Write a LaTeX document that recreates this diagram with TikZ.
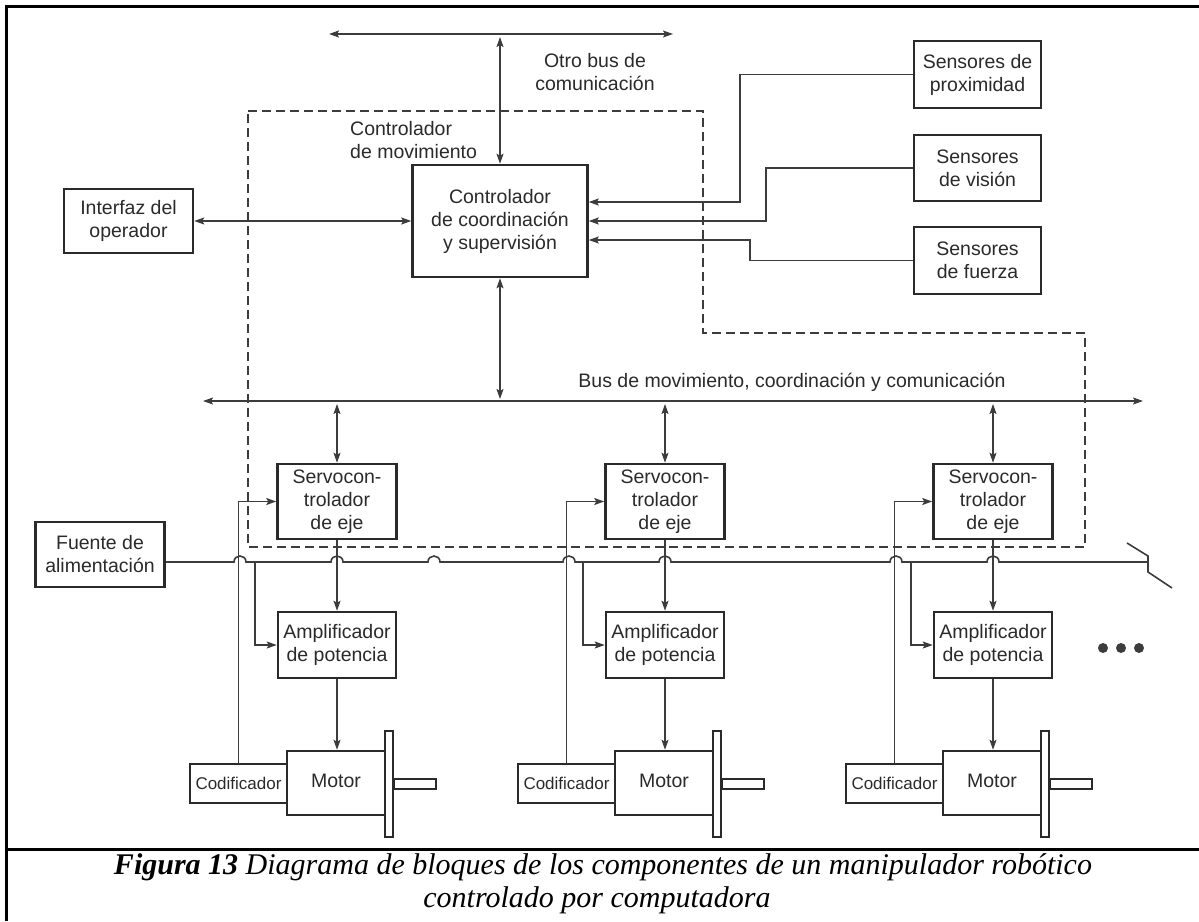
\documentclass[tikz,border=0pt]{standalone}
\usepackage{fontspec}
\setmainfont{Liberation Serif}
\newfontfamily\dsans{Liberation Sans}
\usetikzlibrary{arrows.meta}
\newcommand\fsbox{\dsans\fontsize{19.5}{23}\selectfont}
\newcommand\fscod{\dsans\fontsize{17}{20}\selectfont}
\definecolor{ink}{HTML}{2A2A2A}
\definecolor{wire}{HTML}{3C3C3C}
\begin{document}
\begin{tikzpicture}[x=1pt,y=-1pt,
  tip/.tip={Stealth[length=10pt,width=7pt,inset=2pt]},
  wirestyle/.style={draw=wire,line width=1.6pt},
  arr/.style={wirestyle,-tip},
  darr/.style={wirestyle,tip-tip},
  blk/.style={draw=ink,line width=2.5pt,inner sep=0pt,align=center,font=\fsbox,text=ink},
  lbl/.style={inner sep=0pt,align=center,font=\fsbox,text=ink},
  dashbox/.style={draw=wire,line width=1.7pt,dash pattern=on 9pt off 5pt},
  frame/.style={draw=black,line width=3pt}]
\useasboundingbox (0,0) rectangle (1199,921);

% frame
\draw[frame] (1199,6) -- (6,6) -- (6,921);
\draw[frame] (6,849) -- (1199,849);

% dashed motion controller region
\draw[dashbox] (248,111) -- (703,111) -- (703,333) -- (1085,333) -- (1085,547) -- (248,547) -- cycle;

% top nodes
\node[lbl] (otro) at (595,72) {Otro bus de\\comunicación};
\node[lbl,anchor=west,align=left] (mov) at (350,140) {Controlador\\de movimiento};
\node[blk,minimum width=175pt,minimum height=112pt] (ctrl) at (500,221) {Controlador\\de coordinación\\y supervisión};
\node[blk,minimum width=129pt,minimum height=64pt] (iface) at (128.5,221) {Interfaz del\\operador};
\node[blk,minimum width=127pt,minimum height=67pt] (s1) at (977.5,74.5) {Sensores de\\proximidad};
\node[blk,minimum width=127pt,minimum height=66pt] (s2) at (977.5,168) {Sensores\\de visión};
\node[blk,minimum width=127pt,minimum height=67pt] (s3) at (977.5,260.5) {Sensores\\de fuerza};
\node[blk,minimum width=129pt,minimum height=65pt] (fuente) at (100,554.5) {Fuente de\\alimentación};
\node[lbl] (buslbl) at (792,382) {Bus de movimiento, coordinación y comunicación};

% buses
\coordinate (tb1) at (329,34);
\coordinate (tb2) at (673,34);
\coordinate (mb1) at (203,401);
\coordinate (mb2) at (1143,401);
\draw[darr] (tb1) -- (tb2);
\draw[darr] (mb1) -- (mb2);
\draw[darr,shorten >=3pt] (ctrl.north) -- (ctrl.north |- tb1);
\draw[darr,shorten >=2pt] (ctrl.south) -- (ctrl.south |- mb1);
\draw[darr] (iface.east) -- (ctrl.west);

% sensors
\draw[arr] (s1.west) -| (740,202) -- (ctrl.east |- 0,202);
\draw[arr] (s2.west) -| (766,221) -- (ctrl.east |- 0,221);
\draw[arr] (s3.west) -| (750,240) -- (ctrl.east |- 0,240);

% axis columns
\foreach \cx/\i in {337/1,665/2,993/3}{
  \node[blk,minimum width=119pt,minimum height=75pt] (servo\i) at (\cx,501.5) {Servocon-\\trolador\\de eje};
  \node[blk,minimum width=118pt,minimum height=66pt] (amp\i) at (\cx,645) {Amplificador\\de potencia};
  \node[blk,minimum width=98pt,minimum height=64pt,text depth=4pt] (motor\i) at ({\cx-1},783) {Motor};
  \node[blk,minimum width=97pt,minimum height=39pt,font=\fscod] (cod\i) at ({\cx-98.5},783.5) {Codificador};
  \draw[ink,line width=2.2pt] ({\cx+48},731) rectangle ({\cx+56},837);
  \draw[ink,line width=2.2pt] ({\cx+57},779) rectangle ({\cx+99},789);
  \draw[darr,shorten >=3pt] (servo\i.north) -- (servo\i.north |- mb1);
  \draw[arr] (servo\i.south) -- (amp\i.north);
  \draw[arr] (amp\i.south) -- (amp\i.south |- motor\i.north);
  \draw[arr] (cod\i.north) |- (servo\i.west);
  \coordinate (pw\i) at ({\cx-82},562);
  \draw[arr] (pw\i) |- (amp\i.west);
}

% power line with hops
\coordinate (brk) at (1148,562);
\draw[wirestyle] (fuente.east |- 0,562)
  \foreach \h in {240,337,434,569,665,896,993}{ -- ({\h-6},562) .. controls ({\h-6},554) and ({\h+6},554) .. ({\h+6},562) }
  -- (brk);
\draw[wirestyle] (1127,543) -- (1148,556) -- (1148,572) -- (1172,588);

% dots
\foreach \d/\x in {1/1103,2/1121,3/1139}{
  \node[circle,fill=wire,inner sep=0pt,minimum size=10pt] (dot\d) at (\x,648) {};
}

% caption
\node[font=\fontsize{30}{34}\selectfont\itshape,inner sep=0pt] (cap1) at (603,867) {\textbf{Figura 13} Diagrama de bloques de los componentes de un manipulador robótico};
\node[font=\fontsize{30}{34}\selectfont\itshape,inner sep=0pt] (cap2) at (597,900) {controlado por computadora};
\end{tikzpicture}
\end{document}
